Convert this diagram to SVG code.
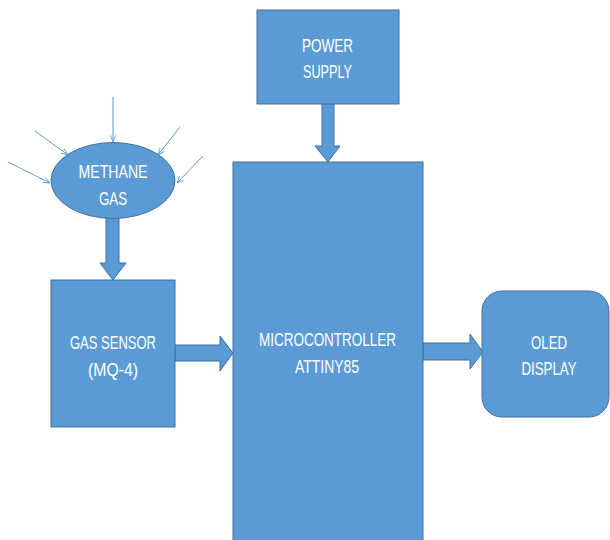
<svg xmlns="http://www.w3.org/2000/svg" width="610" height="540" viewBox="0 0 610 540">
<style>
.n{fill:#5B9BD5;stroke:#41719C;stroke-width:1}
.t{fill:#FFFFFF;font-family:"Liberation Sans",Arial,sans-serif;font-size:19px;text-anchor:middle}
.ba{fill:#5B9BD5;stroke:#41719C;stroke-width:1}
.th{stroke:#5B9BD5;stroke-width:1;fill:none;marker-end:url(#ah)}
</style>
<defs>
<marker id="ah" viewBox="0 0 10 10" refX="10" refY="5" markerWidth="7" markerHeight="7" orient="auto" markerUnits="userSpaceOnUse">
<path d="M0,1 L10,5 L0,9" fill="none" stroke="#5B9BD5" stroke-width="1.2"/>
</marker>
</defs>
<rect width="610" height="540" fill="#FFFFFF"/>
<g id="connectors">
<line class="th" x1="113" y1="97" x2="113" y2="142"/>
<line class="th" x1="35" y1="131" x2="68" y2="155"/>
<line class="th" x1="8" y1="162" x2="50" y2="183"/>
<line class="th" x1="180" y1="127" x2="158" y2="155"/>
<line class="th" x1="203" y1="156" x2="177" y2="183"/>
<path class="ba" d="M106,218 L119,218 L119,263 L126,263 L113,280 L100,263 L106,263 Z"/>
<path class="ba" d="M322,104 L334,104 L334,146 L340,146 L328,162 L315,146 L322,146 Z"/>
<path class="ba" d="M175,345 L220,345 L220,336 L233,353 L220,371 L220,361 L175,361 Z"/>
<path class="ba" d="M423,343 L470,343 L470,334 L483,352 L470,369 L470,360 L423,360 Z"/>
</g>
<g id="methane">
<ellipse class="n" cx="113" cy="180.5" rx="62" ry="38"/>
<text class="t" x="113" y="178" textLength="69" lengthAdjust="spacingAndGlyphs">METHANE</text>
<text class="t" x="113" y="205" textLength="28" lengthAdjust="spacingAndGlyphs">GAS</text>
</g>
<g id="power">
<rect class="n" x="257" y="10" width="142" height="94"/>
<text class="t" x="327.5" y="52" textLength="51" lengthAdjust="spacingAndGlyphs">POWER</text>
<text class="t" x="327.5" y="78" textLength="49" lengthAdjust="spacingAndGlyphs">SUPPLY</text>
</g>
<g id="sensor">
<rect class="n" x="51" y="280" width="124" height="147"/>
<text class="t" x="113" y="349" textLength="86" lengthAdjust="spacingAndGlyphs">GAS SENSOR</text>
<text class="t" x="113" y="376" textLength="50" lengthAdjust="spacingAndGlyphs">(MQ-4)</text>
</g>
<g id="micro">
<rect class="n" x="233" y="162" width="190" height="390"/>
<text class="t" x="327.5" y="346" textLength="137" lengthAdjust="spacingAndGlyphs">MICROCONTROLLER</text>
<text class="t" x="327" y="373" textLength="64" lengthAdjust="spacingAndGlyphs">ATTINY85</text>
</g>
<g id="oled">
<rect class="n" x="482" y="291" width="127" height="126" rx="20" ry="20"/>
<text class="t" x="549" y="349" textLength="36" lengthAdjust="spacingAndGlyphs">OLED</text>
<text class="t" x="549" y="375" textLength="55" lengthAdjust="spacingAndGlyphs">DISPLAY</text>
</g>
</svg>
